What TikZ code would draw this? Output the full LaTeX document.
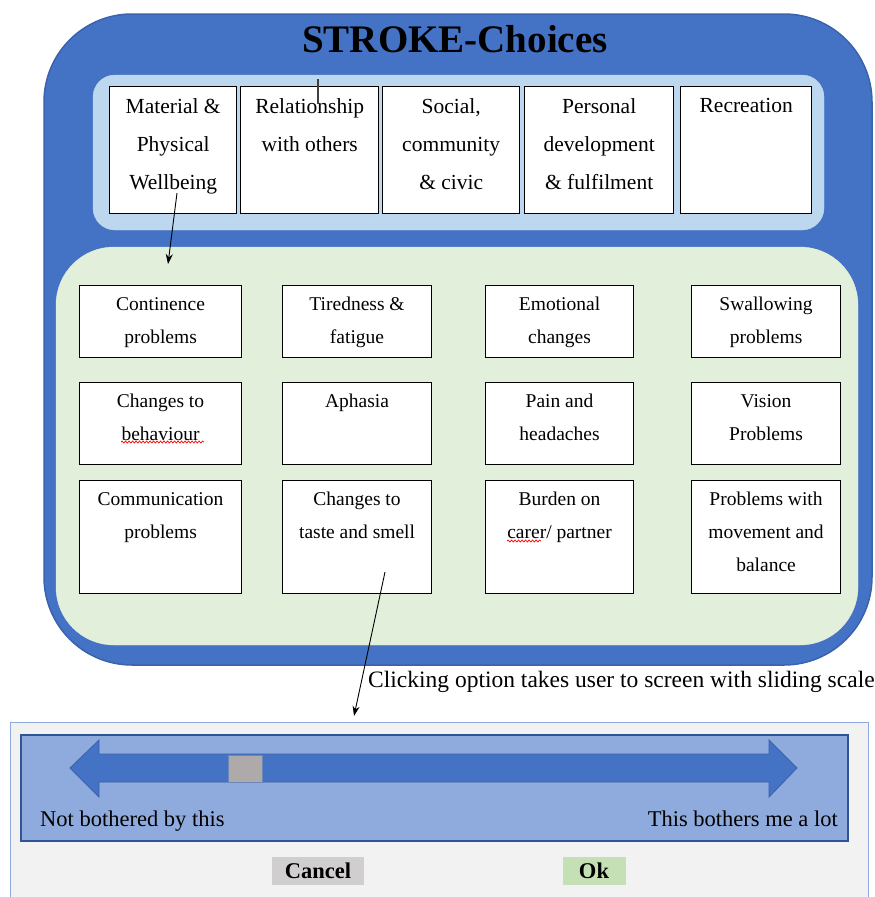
\documentclass[tikz,border=0pt]{standalone}
\usepackage{fontspec}
\setmainfont{Liberation Serif}
\usepackage{xcolor}
\usetikzlibrary{arrows.meta,positioning,decorations.pathmorphing}

\definecolor{outerblue}{HTML}{4472C4}
\definecolor{edgeblue}{HTML}{3A62AD}
\definecolor{paleblue}{HTML}{BDD7EE}
\definecolor{palegreen}{HTML}{E2EFDA}
\definecolor{panelgrey}{HTML}{F2F2F2}
\definecolor{slideblue}{HTML}{8FAADC}
\definecolor{darkblue}{HTML}{2F5597}
\definecolor{thumbgrey}{HTML}{AEAAAA}
\definecolor{btngrey}{HTML}{D0CECE}
\definecolor{btngreen}{HTML}{C5E0B4}

\begin{document}
\begin{tikzpicture}[x=1pt, y=-1pt, >=Stealth,
    lifebox/.style={draw, fill=white, line width=1.4pt, anchor=north west,
      inner sep=0pt, minimum height=127pt},
    lifetext/.style={anchor=north, yshift=-12pt, align=center, inner sep=0pt,
      font=\fontsize{21.5}{38}\selectfont},
    issuebox/.style={draw, fill=white, line width=1.1pt, anchor=north west,
      inner sep=0pt},
    issuetext/.style={anchor=north, yshift=-12pt, align=center, inner sep=0pt,
      font=\fontsize{19.5}{33}\selectfont},
    button/.style={minimum height=28pt, inner sep=0pt,
      font=\fontsize{22.5}{27}\selectfont\bfseries},
    squiggle/.style={red, line width=0.7pt, decorate,
      decoration={snake, amplitude=1pt, segment length=3.5pt}},
    arr/.style={-{Stealth[length=10pt,width=7pt]}, line width=0.9pt}]
  \useasboundingbox (0,0) rectangle (875,897);

  % main screen
  \draw[fill=outerblue, draw=edgeblue, line width=1.5pt, rounded corners=88pt]
    (44,14) rectangle (872,665);
  \node[font=\fontsize{39}{44}\selectfont\bfseries, anchor=base] (title)
    at (455,52) {STROKE-Choices};
  \draw[fill=paleblue, draw=paleblue, rounded corners=22pt]
    (93,75) rectangle (824,230);
  \draw[fill=palegreen, draw=palegreen, rounded corners=58pt]
    (56,247) rectangle (858,645);

  % life areas
  \node[lifebox, minimum width=127pt,
    label={[lifetext]north:{Material \&\\Physical\\Wellbeing}}] (mat) at (109,86) {};
  \node[lifebox, minimum width=138pt,
    label={[lifetext]north:{Relationship\\with others}}] (rel) at (240,86) {};
  \node[lifebox, minimum width=137pt,
    label={[lifetext]north:{Social,\\community\\\& civic}}] (soc) at (382,86) {};
  \node[lifebox, minimum width=149pt,
    label={[lifetext]north:{Personal\\development\\\& fulfilment}}] (pers) at (524,86) {};
  \node[lifebox, minimum width=131pt,
    label={[lifetext]north:{Recreation}}] (rec) at (680,86) {};
  \draw[darkgray, line width=1.2pt] (318,79) -- (318,104);

  % stroke issues
  \node[issuebox, minimum width=162pt, minimum height=72pt,
    label={[issuetext]north:{Continence\\problems}}] (cont) at (79,285) {};
  \node[issuebox, minimum width=149pt, minimum height=72pt,
    label={[issuetext]north:{Tiredness \&\\fatigue}}] (tired) at (282,285) {};
  \node[issuebox, minimum width=148pt, minimum height=72pt,
    label={[issuetext]north:{Emotional\\changes}}] (emot) at (485,285) {};
  \node[issuebox, minimum width=149pt, minimum height=72pt,
    label={[issuetext]north:{Swallowing\\problems}}] (swal) at (691,285) {};

  \node[issuebox, minimum width=162pt, minimum height=82pt,
    label={[issuetext]north:{Changes to\\behaviour}}] (behav) at (79,382) {};
  \node[issuebox, minimum width=149pt, minimum height=82pt,
    label={[issuetext]north:{Aphasia}}] (aphas) at (282,382) {};
  \node[issuebox, minimum width=148pt, minimum height=82pt,
    label={[issuetext]north:{Pain and\\headaches}}] (pain) at (485,382) {};
  \node[issuebox, minimum width=149pt, minimum height=82pt,
    label={[issuetext]north:{Vision\\Problems}}] (vision) at (691,382) {};

  \node[issuebox, minimum width=162pt, minimum height=113pt,
    label={[issuetext]north:{Communication\\problems}}] (comm) at (79,480) {};
  \node[issuebox, minimum width=149pt, minimum height=113pt,
    label={[issuetext]north:{Changes to\\taste and smell}}] (taste) at (282,480) {};
  \node[issuebox, minimum width=148pt, minimum height=113pt,
    label={[issuetext]north:{Burden on\\carer/ partner}}] (burden) at (485,480) {};
  \node[issuebox, minimum width=149pt, minimum height=113pt,
    label={[issuetext]north:{Problems with\\movement and\\balance}}] (move) at (691,480) {};

  % spelling marks
  \draw[squiggle] (121,442) -- (204,442);
  \draw[squiggle] (507,541) -- (541,541);

  % links
  \coordinate (wb) at (177,193);
  \coordinate (wbend) at (168,264);
  \draw[arr] (wb) -- (wbend);
  \coordinate (ts) at (385,572);
  \coordinate (tsend) at (354,716);
  \draw[arr] (ts) -- (tsend);
  \node[anchor=base west, inner sep=0pt, font=\fontsize{23.5}{28}\selectfont]
    (click) at (368,687) {Clicking option takes user to screen with sliding scale};

  % sliding scale screen
  \draw[fill=panelgrey, draw=slideblue, line width=0.8pt] (10,722) rectangle (868,905);
  \draw[fill=slideblue, draw=darkblue, line width=2pt] (21,735) rectangle (848,841);
  \fill[outerblue, draw=edgeblue, line width=0.8pt]
    (70,768) -- (99,740) -- (99,754) -- (769,754) -- (769,740) -- (797,768)
    -- (769,797) -- (769,782) -- (99,782) -- (99,797) -- cycle;
  \draw[fill=thumbgrey, draw=darkblue!70, line width=0.8pt] (228,755) rectangle (262,782);
  \node[anchor=base west, inner sep=0pt, font=\fontsize{22.5}{27}\selectfont]
    (low) at (40,826) {Not bothered by this};
  \node[anchor=base east, inner sep=0pt, font=\fontsize{22.5}{27}\selectfont]
    (high) at (838,826) {This bothers me a lot};
  \node[button, fill=btngrey, minimum width=92pt] (cancel) at (318,871) {Cancel};
  \node[button, fill=btngreen, minimum width=63pt] (ok) at (594,871) {Ok};
\end{tikzpicture}
\end{document}
